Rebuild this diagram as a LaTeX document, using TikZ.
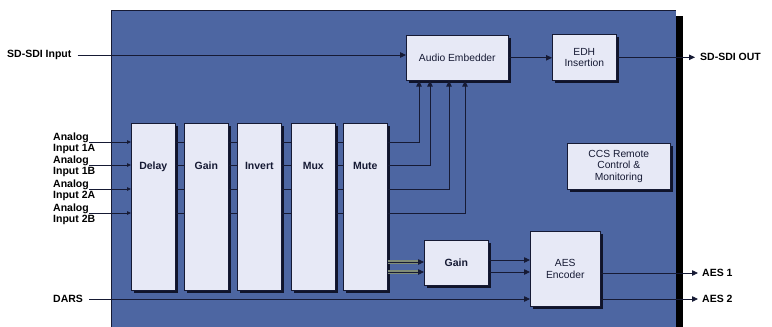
\documentclass[tikz,border=0pt]{standalone}
\usepackage{fontspec}
\setmainfont{Liberation Sans}
\usetikzlibrary{arrows.meta,positioning,calc}
\definecolor{panelblue}{RGB}{77,102,162}
\definecolor{boxfill}{RGB}{231,233,246}
\definecolor{Ink}{RGB}{22,26,52}
\definecolor{Shade}{RGB}{16,20,42}
\definecolor{busgray}{RGB}{128,140,118}

\begin{document}
\begin{tikzpicture}[x=1pt,y=-1pt,
  conn/.style={draw=Ink,line width=0.8pt},
  arr/.style={conn,-{Triangle[length=6pt,width=5.5pt]}},
  blk/.style={draw=Ink,line width=0.6pt,fill=boxfill,inner sep=0pt,anchor=north west,
    preaction={fill=Shade,transform canvas={shift={(2.5pt,-2.5pt)}}},
    text=Ink,font=\fontsize{10.3}{11.5}\selectfont,align=center},
  col/.style={blk,minimum width=44pt,text height=46pt,text depth=121pt,
    font=\fontsize{10.5}{12}\selectfont\bfseries},
  lbl/.style={font=\fontsize{10.5}{11.5}\selectfont\bfseries,text=black,inner sep=0pt}
]
\useasboundingbox (0,0) rectangle (772,327);

% panel
\fill[panelblue] (111,10) rectangle (676,330);
\draw[Ink,line width=1pt] (111,330) -- (111,10) -- (676,10);
\fill[black] (676,16) rectangle (683,330);

% processing columns
\foreach \name/\txt/\x in {delay/Delay/131,gainA/Gain/184,invert/Invert/237,mux/Mux/291,mute/Mute/343}
  \node[col] (\name) at (\x,123) {\txt};
\foreach \a/\b in {delay/gainA,gainA/invert,invert/mux,mux/mute}
  \foreach \y in {142,165,189,213}
    \draw[conn] (\a.east |- 0,\y) -- (\b.west |- 0,\y);

% blocks
\node[blk,minimum width=102pt,minimum height=45pt] (embed) at (406,35) {Audio Embedder};
\node[blk,minimum width=64pt,minimum height=46pt] (edh) at (552,34) {EDH\\Insertion};
\node[blk,minimum width=103pt,minimum height=46pt] (ccs) at (567,143) {CCS Remote\\Control \&\\Monitoring};
\node[blk,minimum width=64pt,minimum height=45pt,font=\fontsize{10.5}{12}\selectfont\bfseries] (gainB) at (424,240) {Gain};
\node[blk,minimum width=70pt,minimum height=75pt] (aesenc) at (530,231) {AES\\Encoder};

% video path
\node[lbl,anchor=west] (sdiin) at (7,55) {SD-SDI Input};
\node[lbl,anchor=west] (sdiout) at (700,57) {SD-SDI OUT};
\draw[arr,shorten <=6pt] (sdiin.east) -- (embed.west |- sdiin.east);
\draw[arr] (embed.east) -- (edh.west |- embed.east);
\draw[arr,shorten >=5pt] (edh.east) -- (sdiout.west |- edh.east);

% analog inputs
\foreach \n/\t/\y in {1/1A/142,2/1B/165,3/2A/189,4/2B/213} {
  \node[lbl,anchor=west] (an\n) at (53,\y-4) {Analog};
  \node[lbl,anchor=west] (in\n) at (53,\y+7) {Input \t};
  \draw[conn,-{Triangle[length=4pt,width=3.5pt]}] (an\n.east |- 0,\y) -- (delay.west |- 0,\y);
}

% mute to embedder
\foreach \y/\x in {142/419,165/430,189/449,213/465}
  \draw[arr] (mute.east |- 0,\y) -| (embed.south -| \x,0);

% mute to gain to encoder
\foreach \y in {262,272} {
  \draw[busgray,line width=3.5pt,shorten >=6pt] (mute.east |- 0,\y) -- (gainB.west |- 0,\y);
  \draw[arr] (mute.east |- 0,\y) -- (gainB.west |- 0,\y);
}
\foreach \y in {260,272}
  \draw[arr] (gainB.east |- 0,\y) -- (aesenc.west |- 0,\y);

% DARS and AES outputs
\node[lbl,anchor=west] (dars) at (53,299) {DARS};
\node[lbl,anchor=west] (aes1) at (702,273) {AES 1};
\node[lbl,anchor=west] (aes2) at (702,299) {AES 2};
\draw[arr,shorten <=6pt] (dars.east) -- (aesenc.west |- dars.east);
\draw[arr,shorten >=4pt] (aesenc.east |- aes1.west) -- (aes1.west);
\draw[arr,shorten >=4pt] (aesenc.east |- aes2.west) -- (aes2.west);
\end{tikzpicture}
\end{document}
